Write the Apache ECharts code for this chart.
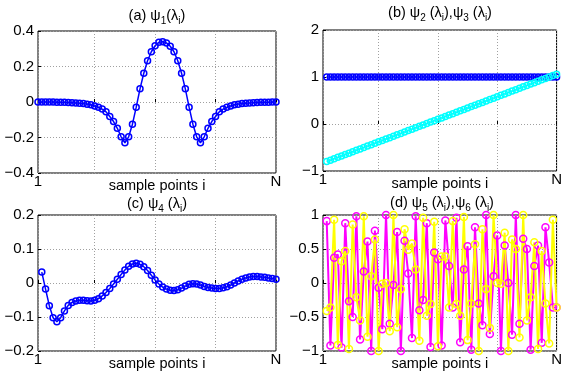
<!DOCTYPE html>
<html><head><meta charset="utf-8">
<script src="https://cdn.jsdelivr.net/npm/echarts@6/dist/echarts.min.js"></script>
<style>html,body{margin:0;padding:0;background:#fff}#c{width:565px;height:372px}</style>
</head><body><div id="c"></div>
<script>
const N = 64;
const xTickValues = [1, 16, 32, 48, 64];
const xLabelValues = [1, 64];
const xName = 'sample points i';
// (a) psi1, samples i = 1..N
const psi1 = [0,0,0,0,0,-0.001,-0.002,-0.002,-0.003,-0.004,-0.005,-0.007,-0.009,-0.012,-0.016,-0.022,-0.03,-0.04,-0.055,-0.082,-0.11,-0.148,-0.196,-0.23,-0.196,-0.125,-0.029,0.074,0.162,0.232,0.283,0.317,0.336,0.34,0.333,0.314,0.283,0.232,0.162,0.074,-0.029,-0.125,-0.196,-0.23,-0.196,-0.148,-0.11,-0.082,-0.055,-0.04,-0.03,-0.022,-0.016,-0.012,-0.009,-0.007,-0.005,-0.004,-0.003,-0.002,-0.002,-0.001,0,0];
// (b) psi2, psi3, samples i = 2..N
const psi2 = [1,1,1,1,1,1,1,1,1,1,1,1,1,1,1,1,1,1,1,1,1,1,1,1,1,1,1,1,1,1,1,1,1,1,1,1,1,1,1,1,1,1,1,1,1,1,1,1,1,1,1,1,1,1,1,1,1,1,1,1,1,1,1];
const psi3 = [-0.80,-0.77,-0.74,-0.71,-0.68,-0.65,-0.62,-0.59,-0.56,-0.53,-0.50,-0.47,-0.44,-0.41,-0.38,-0.35,-0.32,-0.29,-0.26,-0.23,-0.20,-0.17,-0.14,-0.11,-0.08,-0.05,-0.02,0.01,0.04,0.07,0.10,0.13,0.16,0.19,0.22,0.25,0.28,0.31,0.34,0.37,0.40,0.43,0.46,0.49,0.52,0.55,0.58,0.61,0.64,0.67,0.70,0.73,0.76,0.79,0.82,0.85,0.88,0.91,0.94,0.97,1.00,1.03,1.06];
// (c) psi4, samples i = 2..N
const psi4 = [0.032,-0.018,-0.067,-0.102,-0.114,-0.102,-0.082,-0.066,-0.057,-0.053,-0.051,-0.051,-0.052,-0.053,-0.051,-0.046,-0.038,-0.028,-0.016,-0.003,0.011,0.025,0.038,0.049,0.056,0.058,0.055,0.048,0.037,0.023,0.009,-0.003,-0.012,-0.018,-0.021,-0.022,-0.020,-0.015,-0.009,-0.004,-0.002,-0.003,-0.006,-0.010,-0.013,-0.015,-0.016,-0.016,-0.014,-0.011,-0.006,0.000,0.006,0.011,0.015,0.018,0.019,0.019,0.018,0.017,0.015,0.013,0.011];
// (d) psi5, psi6, samples i = 2..N
const psi5 = [0.91,-0.92,0.37,0.42,-0.95,0.88,-0.27,-0.50,0.98,-0.83,0.17,0.61,-1.00,0.77,-0.07,-0.68,1.00,-0.60,-0.03,0.75,-1.00,0.62,0.14,-0.81,0.98,-0.40,-0.25,0.88,-0.94,0.45,0.35,-0.92,0.92,0.25,-0.36,0.96,-0.87,0.20,0.54,-0.98,0.82,-0.30,-0.62,1.00,-0.75,0.10,0.70,-1.00,0.55,0.00,-0.76,1.00,-0.60,0.65,0.50,-0.98,0.25,0.55,-0.88,0.82,0.30,-0.36,-0.36];
const psi6 = [-0.41,-0.36,0.93,-0.91,0.32,0.47,-0.97,0.86,-0.21,-0.55,0.98,-0.79,0.10,0.64,-1.00,-0.01,0.00,-0.71,1.00,-0.65,-0.09,0.79,0.49,0.58,0.20,-0.85,0.96,-0.48,-0.31,0.90,-0.93,0.39,0.39,-0.36,0.91,-0.31,-0.48,0.97,-0.84,-0.30,0.57,-1.00,0.79,-0.09,-0.66,1.00,0.00,-0.01,0.74,-1.00,0.64,0.50,-0.80,1.00,-0.55,-0.21,0.60,-0.97,0.47,-0.30,-0.89,0.93,-0.36];

const FONT = '"Liberation Sans", Arial, Helvetica, sans-serif';
function fmt(v){ const r = Math.round(v*1000)/1000; return String(r).replace('-', '\u2212'); }
const dotted = {show:true, lineStyle:{color:'#a0a0a0', width:1, type:[1,2]}};
function xAx(gi){
  return {gridIndex:gi, type:'value', min:1, max:N,
    axisLine:{show:false},
    axisTick:{show:true, inside:true, length:3, customValues:xTickValues, lineStyle:{color:'#000'}},
    axisLabel:{customValues:xLabelValues, formatter:v => v===1 ? '1' : (v===N ? 'N' : ''), margin:1, color:'#000', fontSize:15, fontFamily:FONT},
    splitLine:dotted,
    name:xName, nameLocation:'middle', nameGap:5, nameMoveOverlap:false,
    nameTextStyle:{color:'#000', fontSize:14.5, fontFamily:FONT, verticalAlign:'top'}
  };
}
function yAx(gi, min, max, interval){
  return {gridIndex:gi, type:'value', min, max, interval,
    axisLine:{show:false},
    axisTick:{show:true, inside:true, length:3, lineStyle:{color:'#000'}},
    axisLabel:{formatter:fmt, margin:4, color:'#000', fontSize:15, fontFamily:FONT},
    splitLine:dotted
  };
}
function ser(gi, arr, start, color, lw, ss){
  return {type:'line', xAxisIndex:gi, yAxisIndex:gi,
    data:arr.map((v,k)=>[k+start, v]),
    symbol:'circle', symbolSize:ss, showAllSymbol:true,
    lineStyle:{color:color, width:lw},
    itemStyle:{color:'rgba(0,0,0,0)', borderColor:color, borderWidth:1.5},
    emphasis:{disabled:true}, animation:false, z:3};
}
const rich = {
  n:{fontSize:14.5, lineHeight:18, verticalAlign:'top', fontFamily:FONT, color:'#000'},
  s:{fontSize:10, lineHeight:10, verticalAlign:'bottom', fontFamily:FONT, color:'#000'}
};
function titleEl(x, y, text){
  return {type:'text', x:x, y:y, style:{text:text, rich:rich, align:'center', verticalAlign:'middle', font:'14px '+FONT}};
}
const chart = echarts.init(document.getElementById('c'), null, {renderer:'canvas'});
chart.setOption({
  animation:false,
  grid:[
    {left:38, top:31, width:238, height:142, show:true, borderColor:'#000', borderWidth:1, backgroundColor:'transparent'},
    {left:323, top:30, width:239, height:141, show:true, borderColor:'#000', borderWidth:1, backgroundColor:'transparent'},
    {left:38, top:215, width:238, height:136, show:true, borderColor:'#000', borderWidth:1, backgroundColor:'transparent'},
    {left:323, top:215, width:240, height:137, show:true, borderColor:'#000', borderWidth:1, backgroundColor:'transparent'}
  ],
  xAxis:[xAx(0), xAx(1), xAx(2), xAx(3)],
  yAxis:[yAx(0,-0.4,0.4,0.2), yAx(1,-1,2,1), yAx(2,-0.2,0.2,0.1), yAx(3,-1,1,0.5)],
  series:[
    ser(0, psi1, 1, '#0000ff', 1.5, 6),
    ser(1, psi2, 2, '#0000ff', 1.5, 6),
    ser(1, psi3, 2, '#00ffff', 1.5, 6),
    ser(2, psi4, 2, '#0000ff', 1.5, 6),
    ser(3, psi5, 2, '#ff00ff', 2, 7),
    ser(3, psi6, 2, '#ffff00', 2, 7)
  ],
  graphic:[
    titleEl(157, 17, '{n|(a) \u03c8}{s|1}{n|(\u03bb}{s|i}{n|)}'),
    titleEl(440, 14, '{n|(b) \u03c8}{s|2}{n| (\u03bb}{s|i}{n|),\u03c8}{s|3}{n| (\u03bb}{s|i}{n|)}'),
    titleEl(157, 205, '{n|(c) \u03c8}{s|4}{n| (\u03bb}{s|i}{n|)}'),
    titleEl(442, 204, '{n|(d) \u03c8}{s|5}{n| (\u03bb}{s|i}{n|),\u03c8}{s|6}{n| (\u03bb}{s|i}{n|)}')
  ]
});
</script></body></html>
